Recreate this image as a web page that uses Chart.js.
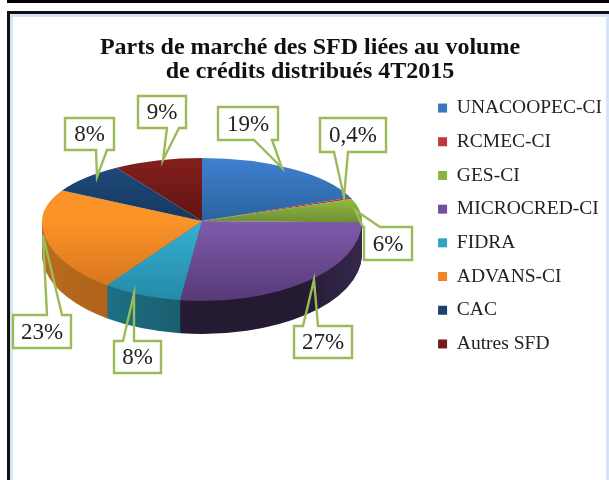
<!DOCTYPE html>
<html>
<head>
<meta charset="utf-8">
<script src="https://cdn.jsdelivr.net/npm/chart.js@4"></script>
<style>
html,body{margin:0;padding:0;background:#fff;overflow:hidden}
#wrap{position:relative;width:609px;height:480px;overflow:hidden}
.f{position:absolute}
canvas{position:absolute;left:0;top:0}
</style>
</head>
<body>
<div id="wrap">
<div class="f" style="left:7px;top:0;width:602px;height:3px;background:#000"></div>
<div class="f" style="left:7px;top:11px;width:602px;height:3px;background:#111"></div>
<div class="f" style="left:7px;top:11px;width:3px;height:469px;background:#111"></div>
<div class="f" style="left:10px;top:14px;width:599px;height:3px;background:#d6e4f5"></div>
<div class="f" style="left:10px;top:14px;width:3px;height:466px;background:#d6e4f5"></div>
<div class="f" style="left:606px;top:14px;width:3px;height:466px;background:#d6e4f5"></div>
<canvas id="c" width="609" height="480"></canvas>
</div>
<script>
const categories = ['UNACOOPEC-CI','RCMEC-CI','GES-CI','MICROCRED-CI','FIDRA','ADVANS-CI','CAC','Autres SFD'];
const shares = [19, 0.4, 6, 27, 8, 23, 8, 9];
const shareLabels = ['19%','0,4%','6%','27%','8%','23%','8%','9%'];
const baseColors = ['#3a75bd','#c0393a','#8ab43e','#71519a','#2ea3c2','#ee8422','#1b4370','#761c1b'];
const topLight = ['#3f80cf','#d04040','#9cc645','#805aab','#36b0d2','#fb9329','#1f4d80','#841f1d'];
const topDark = ['#2b639f','#b03030','#6f9235','#573a78','#248aa6','#cf6f1c','#16375c','#5f1513'];
const wallLight = ['#24507f','#8a2a2a','#5a7a2a','#35284c','#1f7f98','#b86c1f','#12304f','#551412'];
const wallDark = ['#1d3f63','#702222','#486322','#241a31','#195a68','#a4560f','#0e2740','#430f0e'];
const titleLines = ['Parts de marché des SFD liées au volume','de crédits distribués 4T2015'];

const PIE = {cx:202, cy:221, rx:160, ryTop:63, ryBottom:80, depth:33};
const topFade = [true,true,true,false,false,false,true,true];
const callouts = [
 {box:[218,107,278,140], base:[254,272], tip:[282,168]},
 {box:[320,118,386,152], base:[334,348], tip:[344,197]},
 {box:[364,227,412,260], base:[363,380], tip:[355,210]},
 {box:[294,326,352,358], base:[303,318], tip:[314,280]},
 {box:[114,341,161,373], base:[123,134], tip:[134,294]},
 {box:[13,315,71,348], base:[47,62], tip:[43,235]},
 {box:[65,118,114,150], base:[96,107], tip:[97,177]},
 {box:[138,96,186,128], base:[167,179], tip:[163,160]}
];

function drawHalf(ctx, chart, arc, y, ry, lower, fill){
  const saved = arc.options;
  arc.options = {backgroundColor:fill, borderWidth:0, borderColor:fill, offset:0, spacing:0,
    borderRadius:0, circular:true, borderAlign:'center', borderDash:[], borderDashOffset:0, borderJoinStyle:'round'};
  ctx.save();
  ctx.beginPath();
  if(lower) ctx.rect(0,y,chart.width,chart.height-y); else ctx.rect(0,0,chart.width,y);
  ctx.clip();
  ctx.translate(PIE.cx,y);
  ctx.scale(1,ry/PIE.rx);
  ctx.translate(-arc.x,-arc.y);
  arc.draw(ctx);
  ctx.restore();
  arc.options = saved;
}

const pie3d = {
  id:'pie3d',
  beforeDatasetsDraw(chart){
    const ctx = chart.ctx;
    const arcs = chart.getDatasetMeta(0).data;
    const lx = arcs[0].x;
    const wall = arcs.map((a,i)=>{
      const g = ctx.createLinearGradient(lx-PIE.rx,0,lx+PIE.rx,0);
      g.addColorStop(0,wallLight[i]); g.addColorStop(.5,wallDark[i]); g.addColorStop(.8,wallDark[i]); g.addColorStop(1,wallLight[i]);
      return g;
    });
    for(let d=PIE.depth;d>=1;d--){
      arcs.forEach((a,i)=>drawHalf(ctx,chart,a,PIE.cy+d,PIE.ryBottom,true,wall[i]));
    }
    arcs.forEach((a,i)=>{
      const mid = topFade[i] ? topDark[i] : topLight[i];
      const startFrac = i===2 ? 0.45 : 1;
      const gt = ctx.createLinearGradient(0,a.y-PIE.rx*startFrac,0,a.y);
      gt.addColorStop(0,topLight[i]); gt.addColorStop(1,mid);
      drawHalf(ctx,chart,a,PIE.cy,PIE.ryTop,false,gt);
      const gb = ctx.createLinearGradient(0,a.y,0,a.y+PIE.rx);
      gb.addColorStop(0,mid); gb.addColorStop(1,topDark[i]);
      drawHalf(ctx,chart,a,PIE.cy,PIE.ryBottom,true,gb);
    });
    return false;
  },
  afterDraw(chart){
    const ctx = chart.ctx;
    ctx.save();
    callouts.forEach((c,i)=>{
      const [x0,y0,x1,y1] = c.box;
      const below = c.tip[1] > y1;
      ctx.fillStyle='#fff'; ctx.fillRect(x0,y0,x1-x0,y1-y0);
      ctx.beginPath();
      if(below){
        ctx.moveTo(x0,y0); ctx.lineTo(x1,y0); ctx.lineTo(x1,y1);
        ctx.lineTo(c.base[1],y1); ctx.lineTo(c.tip[0],c.tip[1]); ctx.lineTo(c.base[0],y1);
        ctx.lineTo(x0,y1);
      } else {
        ctx.moveTo(x0,y0); ctx.lineTo(c.base[0],y0); ctx.lineTo(c.tip[0],c.tip[1]); ctx.lineTo(c.base[1],y0);
        ctx.lineTo(x1,y0); ctx.lineTo(x1,y1); ctx.lineTo(x0,y1);
      }
      ctx.closePath();
      ctx.strokeStyle='#9bbb59'; ctx.lineWidth=2.4; ctx.lineJoin='miter'; ctx.stroke();
      ctx.fillStyle='#222'; ctx.font='23px "Liberation Serif"'; ctx.textAlign='center'; ctx.textBaseline='middle';
      ctx.fillText(shareLabels[i],(x0+x1)/2,(y0+y1)/2+1);
    });
    ctx.restore();
  }
};

new Chart(document.getElementById('c'),{
  type:'pie',
  plugins:[pie3d],
  data:{labels:categories,datasets:[{data:shares,backgroundColor:baseColors,borderWidth:0}]},
  options:{
    responsive:false,
    animation:false,
    radius:PIE.rx,
    layout:{padding:{left:8,right:-3,top:0,bottom:28}},
    plugins:{
      tooltip:{enabled:false},
      title:{display:true,text:titleLines,color:'#111',font:{family:'"Liberation Serif"',size:24,weight:'bold',lineHeight:1.03},padding:{top:35,bottom:10}},
      legend:{position:'right',align:'center',labels:{color:'#222',font:{family:'"Liberation Serif"',size:19.5},boxWidth:9,boxHeight:9,padding:14.2}}
    }
  }
});
</script>
</body>
</html>
